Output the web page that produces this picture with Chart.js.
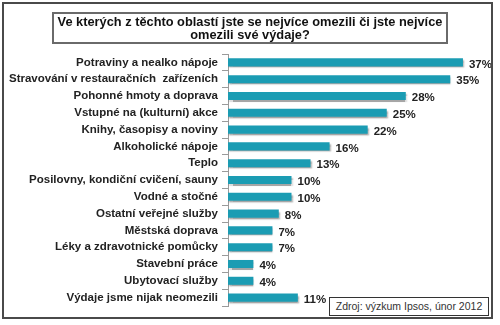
<!DOCTYPE html>
<html>
<head>
<meta charset="utf-8">
<script src="https://cdn.jsdelivr.net/npm/chart.js@4"></script>
<style>
  html, body { margin: 0; padding: 0; background: #fff; }
  #wrap { position: relative; width: 500px; height: 325px; overflow: hidden; font-family: "Liberation Sans", Arial, sans-serif; }
  #frame { position: absolute; left: 2px; top: 2px; width: 491px; height: 317px; border: 2px solid #4a4a4a; box-sizing: border-box; }
  #title { position: absolute; left: 52px; top: 12px; width: 396px; height: 32px; border: 2px solid #6a6a6a; box-sizing: border-box;
           text-align: center; font-weight: bold; font-size: 12.8px; line-height: 13px; color: #111; padding-top: 1px; }
  #source { position: absolute; left: 329px; top: 297px; width: 160px; height: 19px; border: 1px solid #333; box-sizing: border-box;
            background: #fff; font-size: 10.5px; line-height: 17px; text-align: center; color: #333; }
  canvas { position: absolute; left: 0; top: 0; }
</style>
</head>
<body>
<div id="wrap">
  <canvas id="chart" width="500" height="325"></canvas>
  <div id="frame"></div>
  <div id="title">Ve kterých z těchto oblastí jste se nejvíce omezili či jste nejvíce<br>omezili své výdaje?</div>
  <div id="source">Zdroj: výzkum Ipsos, únor 2012</div>
</div>
<script>
// Categories of spending people cut back on
const categories = [
  'Potraviny a nealko nápoje',
  'Stravování v restauračních  zařízeních',
  'Pohonné hmoty a doprava',
  'Vstupné na (kulturní) akce',
  'Knihy, časopisy a noviny',
  'Alkoholické nápoje',
  'Teplo',
  'Posilovny, kondiční cvičení, sauny',
  'Vodné a stočné',
  'Ostatní veřejné služby',
  'Městská doprava',
  'Léky a zdravotnické pomůcky',
  'Stavební práce',
  'Ubytovací služby',
  'Výdaje jsme nijak neomezili'
];

// Share of respondents, in percent
const shares = [37, 35, 28, 25, 22, 16, 13, 10, 10, 8, 7, 7, 4, 4, 11];

// Gray drop shadow under each bar
const barShadow = {
  id: 'barShadow',
  beforeDatasetDraw(chart) {
    const ctx = chart.ctx;
    ctx.save();
    ctx.shadowColor = 'rgba(0,0,0,0.35)';
    ctx.shadowOffsetX = 1;
    ctx.shadowOffsetY = 2;
    ctx.shadowBlur = 1.5;
  },
  afterDatasetDraw(chart) {
    chart.ctx.restore();
  }
};

// Percentage labels to the right of each bar
const valueLabels = {
  id: 'valueLabels',
  afterDatasetsDraw(chart) {
    const ctx = chart.ctx;
    const meta = chart.getDatasetMeta(0);
    ctx.save();
    ctx.font = 'bold 11.5px "Liberation Sans", Arial, sans-serif';
    ctx.fillStyle = '#222';
    ctx.textAlign = 'left';
    ctx.textBaseline = 'middle';
    meta.data.forEach((bar, i) => {
      ctx.fillText(shares[i] + '%', bar.x + 6, bar.y + 2);
    });
    ctx.restore();
  }
};

const ctx = document.getElementById('chart').getContext('2d');
new Chart(ctx, {
  type: 'bar',
  data: {
    labels: categories,
    datasets: [{
      data: shares,
      backgroundColor: '#1b9cb3',
      borderWidth: 0,
      categoryPercentage: 1,
      barPercentage: 0.48
    }]
  },
  options: {
    indexAxis: 'y',
    responsive: false,
    animation: false,
    layout: { padding: { top: 54, bottom: 19, left: 0, right: 18 } },
    plugins: {
      legend: { display: false },
      tooltip: { enabled: false }
    },
    scales: {
      x: {
        display: false,
        min: 0,
        max: 40
      },
      y: {
        afterFit(scale) { scale.width = 228; },
        border: { display: true, color: '#9a9a9a', width: 1 },
        grid: {
          drawOnChartArea: false,
          drawTicks: true,
          tickLength: 6,
          color: '#9a9a9a'
        },
        ticks: {
          padding: 4,
          color: '#222',
          font: { family: '"Liberation Sans", Arial, sans-serif', weight: 'bold', size: 11.5 }
        }
      }
    }
  },
  plugins: [barShadow, valueLabels]
});
</script>
</body>
</html>
